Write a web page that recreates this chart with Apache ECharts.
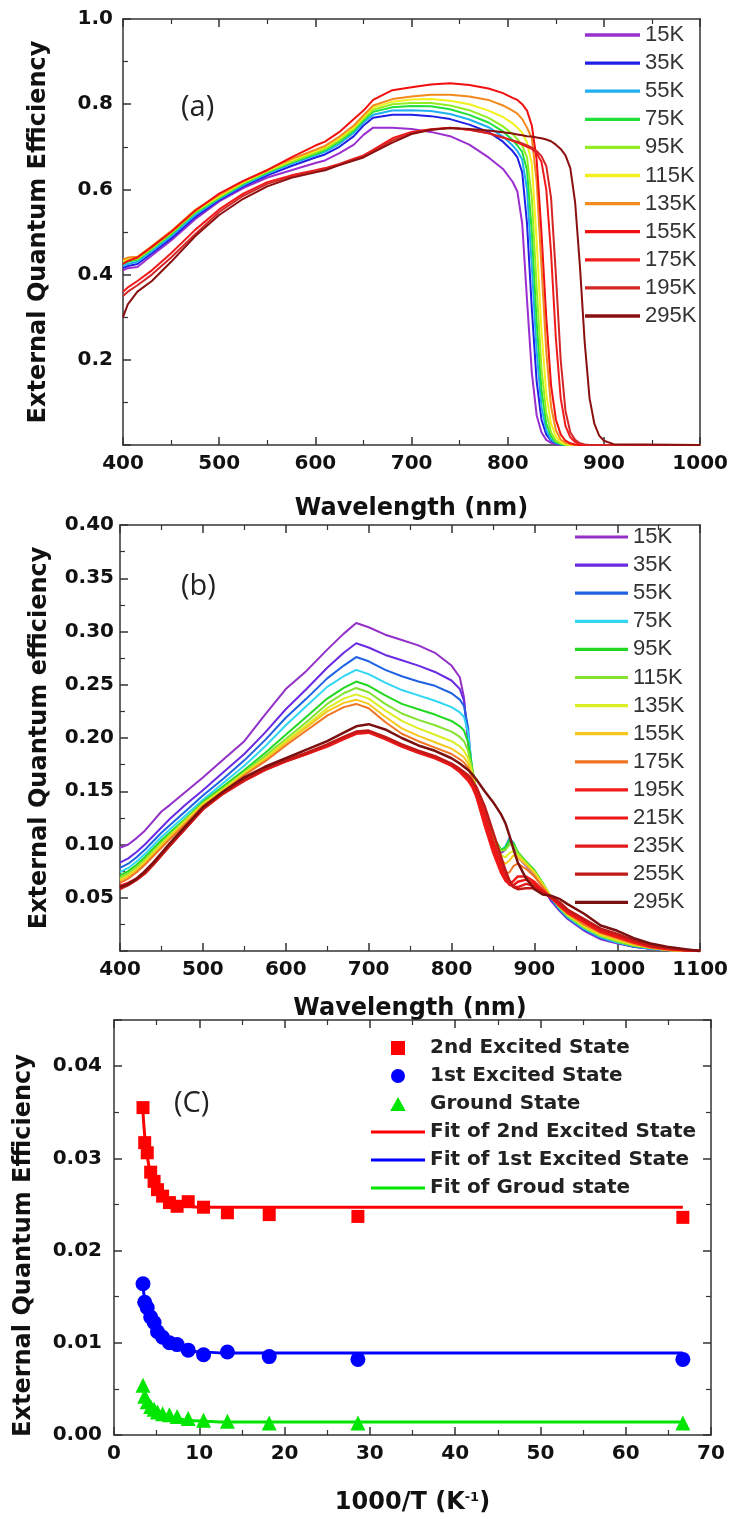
<!DOCTYPE html>
<html>
<head>
<meta charset="utf-8">
<script src="https://cdn.jsdelivr.net/npm/echarts@6/dist/echarts.min.js"></script>
<style>
html,body{margin:0;padding:0;background:#fff}
#chart{width:731px;height:1519px}
</style>
</head>
<body>
<div id="chart"></div>
<script>
// ---------- Panel (a): EQE spectra, 15 K - 295 K ----------
const WL_A = [400,405,415,430,450,475,500,525,550,575,600,610,625,640,650,660,680,700,720,740,760,780,795,805,810,815,820,825,830,835,840,845,850,855,860,865,870,875,880,885,890,895,900,910,1000];
const TEMPS_A = ['15K','35K','55K','75K','95K','115K','135K','155K','175K','195K','295K'];
const A_15K  = [.410,.415,.418,.445,.480,.530,.572,.603,.628,.645,.662,.668,.685,.705,.728,.745,.745,.742,.735,.725,.705,.675,.648,.618,.595,.520,.340,.170,.070,.030,.012,.005,.002,0,0,0,0,0,0,0,0,0,0,0,0];
const A_35K  = [.415,.420,.425,.450,.485,.535,.575,.607,.633,.655,.675,.682,.700,.725,.750,.768,.775,.775,.772,.765,.752,.735,.712,.690,.675,.640,.520,.320,.150,.060,.025,.010,.004,.001,0,0,0,0,0,0,0,0,0,0,0];
const A_55K  = [.420,.425,.430,.455,.490,.540,.578,.610,.637,.660,.680,.688,.707,.733,.757,.775,.785,.786,.784,.777,.764,.746,.724,.703,.690,.670,.600,.420,.220,.090,.035,.013,.005,.002,0,0,0,0,0,0,0,0,0,0,0];
const A_75K  = [.425,.430,.435,.460,.495,.545,.580,.613,.640,.663,.683,.692,.712,.738,.762,.782,.793,.796,.795,.788,.775,.757,.736,.716,.703,.688,.645,.500,.290,.130,.050,.020,.007,.002,0,0,0,0,0,0,0,0,0,0,0];
const A_95K  = [.428,.433,.437,.462,.497,.547,.582,.615,.642,.665,.686,.695,.716,.742,.766,.787,.800,.803,.803,.797,.786,.768,.748,.730,.718,.703,.675,.580,.370,.180,.075,.030,.010,.004,.001,0,0,0,0,0,0,0,0,0,0];
const A_115K = [.432,.437,.440,.465,.500,.550,.585,.617,.644,.668,.690,.699,.720,.746,.770,.792,.806,.811,.812,.808,.800,.785,.770,.755,.745,.733,.710,.660,.480,.270,.120,.050,.020,.007,.002,0,0,0,0,0,0,0,0,0,0];
const A_135K = [.435,.440,.442,.467,.502,.552,.587,.619,.646,.671,.693,.702,.724,.750,.774,.797,.812,.818,.822,.822,.818,.810,.797,.785,.778,.765,.745,.720,.620,.420,.220,.090,.035,.013,.005,.002,0,0,0,0,0,0,0,0,0];
const A_155K = [.425,.432,.440,.465,.500,.550,.590,.620,.645,.675,.703,.712,.735,.765,.785,.810,.833,.840,.846,.849,.845,.837,.826,.815,.810,.800,.785,.750,.670,.500,.300,.140,.060,.025,.010,.004,.001,0,0,0,0,0,0,0,0];
const A_175K = [.360,.370,.385,.410,.450,.505,.553,.590,.617,.633,.645,.650,.660,.672,.680,.693,.720,.735,.741,.745,.740,.732,.722,.714,.710,.705,.700,.695,.685,.665,.600,.450,.250,.110,.045,.018,.007,.002,0,0,0,0,0,0,0];
const A_195K = [.350,.360,.375,.400,.440,.495,.547,.585,.613,.630,.643,.648,.658,.670,.678,.690,.715,.732,.740,.744,.740,.732,.722,.715,.712,.708,.703,.698,.690,.678,.655,.580,.400,.200,.080,.030,.012,.004,.001,0,0,0,0,0,0];
const A_295K = [.300,.330,.360,.385,.430,.490,.540,.578,.607,.627,.640,.645,.657,.668,.675,.687,.710,.730,.740,.744,.742,.738,.734,.731,.729,.727,.725,.724,.722,.720,.717,.713,.705,.695,.680,.650,.570,.420,.240,.110,.050,.022,.010,.002,0];
const A_VALUES = [A_15K,A_35K,A_55K,A_75K,A_95K,A_115K,A_135K,A_155K,A_175K,A_195K,A_295K];
const A_COLORS = ['#9a2fd0','#1f1fe6','#1fb0f2','#22e03a','#92ee22','#f2f01e','#f28a1e','#f20f0f','#f01a1a','#d42626','#8a1010'];

// ---------- Panel (b): EQE spectra, 15 K - 295 K ----------
const WL_B = [400,410,420,430,440,450,460,480,500,525,550,575,600,625,650,670,685,700,720,740,760,780,800,810,815,820,825,830,840,850,860,865,870,875,880,890,900,910,920,930,940,960,980,1000,1020,1040,1060,1080,1100];
const TEMPS_B = ['15K','35K','55K','75K','95K','115K','135K','155K','175K','195K','215K','235K','255K','295K'];
const B_15K  = [.097,.100,.106,.113,.122,.131,.137,.150,.163,.180,.197,.222,.246,.263,.283,.298,.308,.304,.297,.292,.287,.280,.268,.257,.238,.195,.158,.145,.125,.105,.092,.095,.104,.098,.088,.080,.072,.060,.047,.038,.030,.019,.011,.007,.004,.002,.001,0,0];
const B_35K  = [.083,.087,.093,.100,.108,.116,.124,.138,.151,.168,.185,.205,.227,.246,.266,.280,.289,.285,.278,.273,.268,.262,.254,.246,.235,.200,.160,.145,.125,.105,.093,.097,.106,.100,.090,.081,.073,.061,.048,.039,.031,.020,.012,.008,.004,.002,.001,0,0];
const B_55K  = [.078,.082,.088,.095,.103,.111,.118,.132,.146,.162,.179,.198,.219,.237,.256,.268,.276,.272,.264,.258,.253,.249,.242,.236,.230,.210,.165,.147,.126,.106,.094,.098,.106,.101,.091,.082,.074,.062,.049,.039,.031,.020,.012,.008,.004,.002,.001,0,0];
const B_75K  = [.074,.078,.084,.091,.099,.107,.114,.128,.142,.158,.174,.192,.212,.230,.248,.258,.264,.260,.252,.245,.240,.235,.229,.224,.220,.205,.170,.148,.127,.107,.095,.098,.105,.101,.092,.083,.075,.063,.050,.040,.032,.021,.013,.008,.005,.002,.001,0,0];
const B_95K  = [.071,.075,.081,.088,.096,.104,.111,.125,.140,.155,.170,.186,.203,.220,.237,.247,.253,.249,.240,.232,.227,.222,.216,.211,.207,.196,.172,.150,.128,.108,.095,.097,.104,.101,.093,.084,.076,.064,.051,.041,.033,.022,.014,.009,.005,.003,.001,0,0];
const B_115K = [.069,.073,.079,.086,.094,.102,.109,.124,.139,.153,.168,.183,.199,.215,.232,.242,.247,.243,.232,.223,.217,.212,.206,.201,.197,.188,.170,.150,.127,.107,.094,.095,.100,.099,.092,.083,.075,.063,.051,.041,.033,.022,.014,.009,.005,.003,.001,0,0];
const B_135K = [.067,.071,.077,.084,.092,.100,.108,.123,.138,.152,.167,.181,.197,.212,.228,.237,.241,.237,.226,.216,.209,.203,.197,.192,.188,.181,.168,.150,.125,.105,.090,.088,.092,.094,.090,.082,.074,.063,.051,.042,.034,.023,.015,.010,.006,.003,.001,0,0];
const B_155K = [.066,.070,.076,.083,.091,.099,.107,.122,.137,.151,.166,.180,.195,.210,.225,.233,.236,.232,.220,.209,.202,.196,.190,.185,.182,.176,.165,.148,.122,.100,.085,.082,.085,.090,.088,.081,.073,.062,.051,.042,.035,.024,.016,.011,.006,.003,.001,0,0];
const B_175K = [.064,.068,.074,.081,.089,.097,.105,.120,.136,.150,.165,.178,.193,.207,.221,.229,.232,.228,.215,.204,.197,.191,.185,.180,.177,.172,.162,.146,.118,.095,.078,.073,.074,.080,.082,.077,.070,.060,.050,.042,.035,.025,.017,.012,.007,.003,.001,0,0];
const B_195K = [.061,.064,.068,.074,.082,.091,.100,.117,.134,.149,.161,.171,.179,.186,.193,.200,.205,.206,.200,.193,.187,.182,.174,.168,.164,.160,.154,.145,.118,.093,.073,.066,.063,.066,.070,.070,.065,.057,.050,.043,.036,.027,.018,.013,.008,.004,.002,.001,0];
const B_215K = [.060,.063,.067,.073,.081,.090,.099,.116,.133,.148,.160,.170,.178,.185,.192,.199,.204,.205,.199,.192,.186,.181,.174,.169,.165,.161,.156,.148,.124,.098,.077,.068,.062,.062,.065,.067,.063,.056,.050,.044,.037,.028,.019,.014,.009,.005,.002,.001,0];
const B_235K = [.059,.062,.067,.073,.081,.090,.099,.116,.133,.148,.160,.170,.178,.185,.193,.200,.205,.206,.200,.193,.187,.182,.175,.170,.167,.163,.158,.151,.130,.104,.082,.071,.063,.060,.060,.063,.061,.055,.051,.045,.038,.029,.020,.015,.010,.005,.002,.001,0];
const B_255K = [.058,.062,.067,.073,.081,.090,.099,.116,.134,.149,.161,.171,.179,.186,.194,.201,.206,.207,.201,.194,.188,.183,.176,.171,.168,.165,.160,.154,.136,.112,.088,.076,.066,.060,.058,.059,.059,.054,.051,.046,.039,.030,.021,.016,.010,.005,.003,.001,0];
const B_295K = [.060,.063,.068,.075,.083,.092,.101,.118,.135,.150,.163,.173,.181,.189,.197,.205,.211,.213,.208,.200,.193,.188,.181,.176,.173,.170,.166,.161,.150,.140,.128,.120,.108,.095,.083,.068,.058,.053,.052,.049,.044,.035,.024,.019,.012,.007,.004,.002,0];
const B_VALUES = [B_15K,B_35K,B_55K,B_75K,B_95K,B_115K,B_135K,B_155K,B_175K,B_195K,B_215K,B_235K,B_255K,B_295K];
const B_COLORS = ['#9330c8','#6a2ae2','#2062e2','#30d6f2','#22d822','#84e230','#dcee22','#f6c81e','#f07422','#f21a1a','#ee1616','#e41a1a','#c21818','#7a1010'];

// ---------- Panel (c): EQE of the three states versus 1000/T ----------
const INV_T    = [3.4,3.6,3.9,4.3,4.7,5.1,5.7,6.5,7.4,8.7,10.5,13.3,18.2,28.6,66.7];
const EQE_2ND  = [.0355,.0317,.0306,.0285,.0275,.0266,.0259,.0252,.0248,.0253,.0247,.0241,.0239,.0237,.0236];
const EQE_1ST  = [.0164,.0144,.0138,.0128,.0122,.0112,.0106,.0100,.0098,.0092,.0087,.0090,.0085,.0082,.0082];
const EQE_GND  = [.0054,.0042,.0036,.0031,.0028,.0025,.0023,.0022,.0020,.0018,.0016,.0015,.0013,.0013,.0013];
const FIT_X    = [3.4,3.6,3.9,4.3,4.7,5.1,5.7,6.5,7.4,8.7,10.5,13.3,20,66.7];
const FIT_2ND  = [.0350,.0325,.0302,.0283,.0272,.0264,.0257,.0252,.0249,.0248,.0247,.0247,.0247,.0247];
const FIT_1ST  = [.0160,.0148,.0137,.0126,.0117,.0110,.0103,.0097,.0094,.0091,.0090,.0089,.0089,.0089];
const FIT_GND  = [.0050,.0044,.0038,.0033,.0029,.0026,.0023,.0020,.0018,.0016,.0015,.0014,.0014,.0014];
const C_NAMES  = ['2nd Excited State','1st Excited State','Ground State','Fit of 2nd Excited State','Fit of 1st Excited State','Fit of Groud state'];

// ---------- shared styling ----------
const AX = '#333';
const TICK_FONT = {fontFamily:'DejaVu Sans', fontWeight:'bold', fontSize:20, color:'#111'};
const NAME_FONT = {fontFamily:'DejaVu Sans', fontWeight:'bold', fontSize:24, color:'#111'};
const zip = (xs, ys) => xs.map((x, i) => [x, ys[i]]);

// legend glyphs: a short bar for curves, square / triangle markers for points
const ICON_BAR = 'path://M0,0h100v6h-100z';
const ICON_SQUARE = 'path://M0,0h10v10h-10z';
const ICON_TRIANGLE = 'path://M5,0L10,9L0,9z';
const ICON_CIRCLE = 'circle';

function axisPair(kind, grid, min, max, interval, opts) {
  const common = {
    type:'value', gridIndex:grid, min, max, interval,
    axisLine:{show:true, onZero:false, lineStyle:{color:AX, width:1.5}},
    splitLine:{show:false}, minorSplitLine:{show:false}
  };
  const ticks = {
    axisTick:{show:true, inside:true, length:8, lineStyle:{color:AX, width:1.5}},
    minorTick:{show:true, splitNumber:2, length:5, lineStyle:{color:AX, width:1.2}}
  };
  const main = Object.assign({}, common, ticks, {
    position: kind === 'x' ? 'bottom' : 'left',
    axisLabel: Object.assign({}, TICK_FONT, {margin:opts.margin, formatter:opts.fmt}),
    name: opts.name, nameLocation:'middle', nameGap: opts.nameGap,
    nameTextStyle: Object.assign({}, NAME_FONT, opts.nameStyle || {})
  });
  const mirror = Object.assign({}, common, opts.mirrorTicks ? ticks : {axisTick:{show:false}, minorTick:{show:false}}, {
    position: kind === 'x' ? 'top' : 'right',
    axisLabel:{show:false}
  });
  return [main, mirror];
}

const hideZero = d => v => (Math.abs(v) < 1e-9 ? '' : v.toFixed(d));

const xAxes = [
  ...axisPair('x', 0, 400, 1000, 100, {margin:9, fmt: v => String(Math.round(v)), name:'Wavelength (nm)', nameGap:52, mirrorTicks:true}),
  ...axisPair('x', 1, 400, 1100, 100, {margin:9, fmt: v => String(Math.round(v)), name:'Wavelength (nm)', nameGap:46, mirrorTicks:true}),
  ...axisPair('x', 2, 0, 70, 10, {margin:9, fmt: v => String(Math.round(v)),
      name:'1000/T (K{sup|-1})', nameGap:56, mirrorTicks:true,
      nameStyle:{rich:{sup:{fontFamily:'DejaVu Sans', fontWeight:'bold', fontSize:13, verticalAlign:'top', lineHeight:24, padding:[0,0,10,0]}}}})
];
const yAxes = [
  ...axisPair('y', 0, 0, 1.0, 0.2, {margin:10, fmt: hideZero(1), name:'External Quantum Efficiency', nameGap:72, mirrorTicks:false}),
  ...axisPair('y', 1, 0, 0.40, 0.05, {margin:6, fmt: hideZero(2), name:'External Quantum efficiency', nameGap:68, mirrorTicks:false}),
  ...axisPair('y', 2, 0, 0.045, 0.01, {margin:12,
      fmt: v => (Math.abs(v * 100 - Math.round(v * 100)) > 1e-6 ? '' : v.toFixed(2)),
      name:'External Quantum Efficiency', nameGap:78, mirrorTicks:true,
      nameStyle:{padding:[0,36,0,0]}})
];

const series = [];
TEMPS_A.forEach((t, i) => series.push({
  name:'a:' + t, type:'line', xAxisIndex:0, yAxisIndex:0, showSymbol:false, symbol:'none',
  data: zip(WL_A, A_VALUES[i]), lineStyle:{color:A_COLORS[i], width:2}, itemStyle:{color:A_COLORS[i]}
}));
TEMPS_B.forEach((t, i) => series.push({
  name:'b:' + t, type:'line', xAxisIndex:2, yAxisIndex:2, showSymbol:false, symbol:'none',
  data: zip(WL_B, B_VALUES[i]), lineStyle:{color:B_COLORS[i], width: i >= 9 ? 2.5 : 2}, itemStyle:{color:B_COLORS[i]}
}));
const C_COLORS = ['#ff0000','#0000ff','#00e600'];
const C_SYMBOLS = [['rect',13],['circle',15],['triangle',15]];
[EQE_2ND, EQE_1ST, EQE_GND].forEach((ys, i) => series.push({
  name:C_NAMES[i], type:'scatter', xAxisIndex:4, yAxisIndex:4,
  symbol:C_SYMBOLS[i][0], symbolSize:C_SYMBOLS[i][1], z:3,
  data: zip(INV_T, ys), itemStyle:{color:C_COLORS[i], opacity:1}
}));
[FIT_2ND, FIT_1ST, FIT_GND].forEach((ys, i) => series.push({
  name:C_NAMES[i + 3], type:'line', xAxisIndex:4, yAxisIndex:4, showSymbol:false, symbol:'none', smooth:0.4, z:2,
  data: zip(FIT_X, ys), lineStyle:{color:C_COLORS[i], width:3}, itemStyle:{color:C_COLORS[i]}
}));

const legendBase = {orient:'vertical', selectedMode:false, padding:0, symbolKeepAspect:true};
const tempLegendText = {fontFamily:'Liberation Sans', fontSize:22, color:'#333', lineHeight:22};
const legends = [
  Object.assign({}, legendBase, {
    data: TEMPS_A.map(t => ({name:'a:' + t, icon:ICON_BAR})), left:585, top:24, itemWidth:55, itemHeight:14, itemGap:6.1,
    formatter: n => n.slice(2), textStyle:tempLegendText
  }),
  Object.assign({}, legendBase, {
    data: TEMPS_B.map(t => ({name:'b:' + t, icon:ICON_BAR})), left:575, top:526, itemWidth:53, itemHeight:14, itemGap:6.1,
    formatter: n => n.slice(2), textStyle:tempLegendText
  }),
  Object.assign({}, legendBase, {
    data: [
      {name:C_NAMES[0], icon:ICON_SQUARE},
      {name:C_NAMES[1], icon:ICON_CIRCLE},
      {name:C_NAMES[2], icon:ICON_TRIANGLE},
      {name:C_NAMES[3], icon:ICON_BAR},
      {name:C_NAMES[4], icon:ICON_BAR},
      {name:C_NAMES[5], icon:ICON_BAR}
    ],
    left:371, top:1038, itemWidth:54, itemHeight:14, itemGap:8,
    textStyle:{fontFamily:'DejaVu Sans', fontWeight:'bold', fontSize:20, color:'#222', lineHeight:20}
  })
];

// panel tags
const tagFont = '29px "Open Sans"';
const option = {
  animation:false,
  backgroundColor:'#fff',
  grid:[
    {left:123, right:25, top:19, height:426},
    {left:120, right:28, top:525, height:426},
    {left:114, right:20, top:1020, height:415}
  ],
  xAxis: xAxes,
  yAxis: yAxes,
  legend: legends,
  graphic:[
    {type:'text', left:181, top:93, style:{text:'(a)', font:tagFont, fill:'#222'}},
    {type:'text', left:181, top:572, style:{text:'(b)', font:tagFont, fill:'#222'}},
    {type:'text', left:174, top:1089, style:{text:'(C)', font:tagFont, fill:'#222'}}
  ],
  series
};

const chart = echarts.init(document.getElementById('chart'), null, {renderer:'canvas'});
chart.setOption(option);
</script>
</body>
</html>
